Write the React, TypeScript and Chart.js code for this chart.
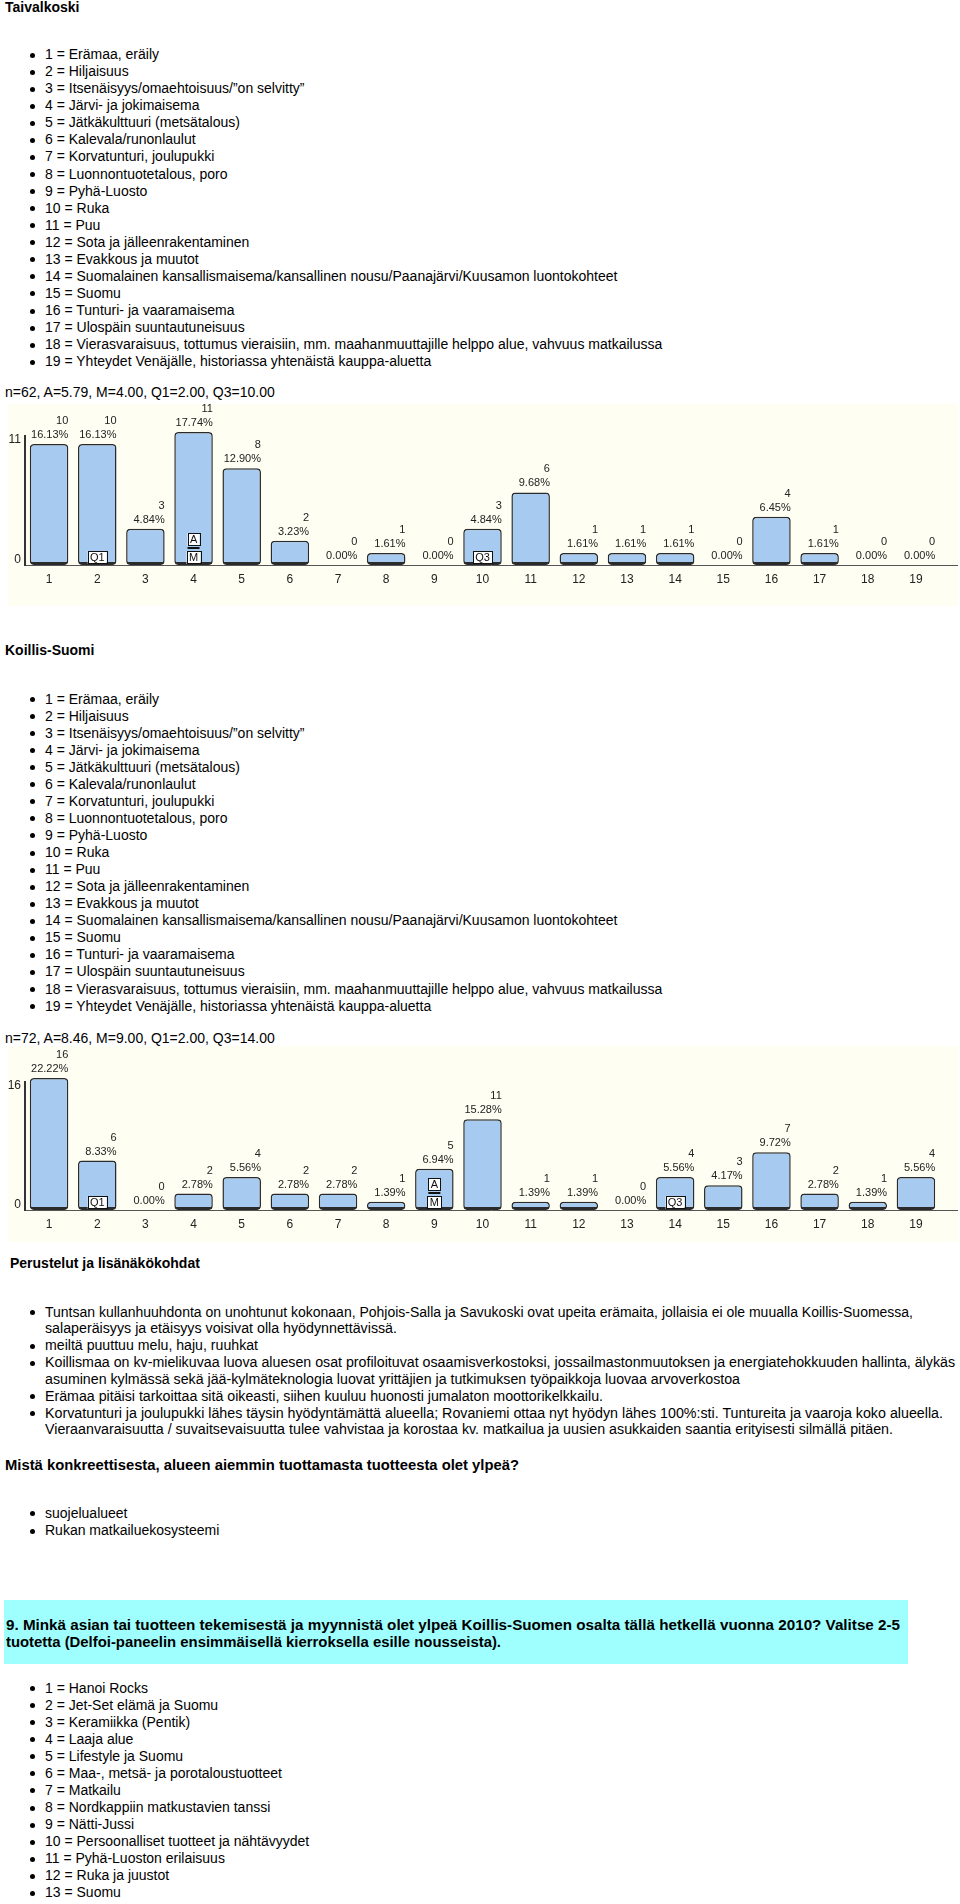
import React, { useEffect, useLayoutEffect, useRef } from 'react';
import { Chart, registerables } from 'chart.js';

Chart.register(...registerables);

const FONT = '"Liberation Sans", Arial, Helvetica, sans-serif';

// ---------- data ----------
const optionNames = [
  '1 = Erämaa, eräily',
  '2 = Hiljaisuus',
  '3 = Itsenäisyys/omaehtoisuus/”on selvitty”',
  '4 = Järvi- ja jokimaisema',
  '5 = Jätkäkulttuuri (metsätalous)',
  '6 = Kalevala/runonlaulut',
  '7 = Korvatunturi, joulupukki',
  '8 = Luonnontuotetalous, poro',
  '9 = Pyhä-Luosto',
  '10 = Ruka',
  '11 = Puu',
  '12 = Sota ja jälleenrakentaminen',
  '13 = Evakkous ja muutot',
  '14 = Suomalainen kansallismaisema/kansallinen nousu/Paanajärvi/Kuusamon luontokohteet',
  '15 = Suomu',
  '16 = Tunturi- ja vaaramaisema',
  '17 = Ulospäin suuntautuneisuus',
  '18 = Vierasvaraisuus, tottumus vieraisiin, mm. maahanmuuttajille helppo alue, vahvuus matkailussa',
  '19 = Yhteydet Venäjälle, historiassa yhtenäistä kauppa-aluetta',
];

const tickLabels = ['1', '2', '3', '4', '5', '6', '7', '8', '9', '10', '11', '12', '13', '14', '15', '16', '17', '18', '19'];

const taivalkoskiCounts = [10, 10, 3, 11, 8, 2, 0, 1, 0, 3, 6, 1, 1, 1, 0, 4, 1, 0, 0];
const taivalkoskiTotal = 62;
const taivalkoskiStats = 'n=62, A=5.79, M=4.00, Q1=2.00, Q3=10.00';
const taivalkoskiMarkers = [
  { index: 1, labels: ['Q1'] },
  { index: 3, labels: ['A', 'M'] },
  { index: 9, labels: ['Q3'] },
];

const koillisCounts = [16, 6, 0, 2, 4, 2, 2, 1, 5, 11, 1, 1, 0, 4, 3, 7, 2, 1, 4];
const koillisTotal = 72;
const koillisStats = 'n=72, A=8.46, M=9.00, Q1=2.00, Q3=14.00';
const koillisMarkers = [
  { index: 1, labels: ['Q1'] },
  { index: 8, labels: ['A', 'M'] },
  { index: 13, labels: ['Q3'] },
];

const perusteluLines = [
  { text: 'Tuntsan kullanhuuhdonta on unohtunut kokonaan, Pohjois-Salla ja Savukoski ovat upeita erämaita, jollaisia ei ole muualla Koillis-Suomessa,', bullet: true, w: 868 },
  { text: 'salaperäisyys ja etäisyys voisivat olla hyödynnettävissä.', bullet: false, w: 352 },
  { text: 'meiltä puuttuu melu, haju, ruuhkat', bullet: true, w: 213 },
  { text: 'Koillismaa on kv-mielikuvaa luova aluesen osat profiloituvat osaamisverkostoksi, jossailmastonmuutoksen ja energiatehokkuuden hallinta, älykäs', bullet: true, w: 910 },
  { text: 'asuminen kylmässä sekä jää-kylmäteknologia luovat yrittäjien ja tutkimuksen työpaikkoja luovaa arvoverkostoa', bullet: false, w: 695 },
  { text: 'Erämaa pitäisi tarkoittaa sitä oikeasti, siihen kuuluu huonosti jumalaton moottorikelkkailu.', bullet: true, w: 558 },
  { text: 'Korvatunturi ja joulupukki lähes täysin hyödyntämättä alueella; Rovaniemi ottaa nyt hyödyn lähes 100%:sti. Tuntureita ja vaaroja koko alueella.', bullet: true, w: 898 },
  { text: 'Vieraanvaraisuutta / suvaitsevaisuutta tulee vahvistaa ja korostaa kv. matkailua ja uusien asukkaiden saantia erityisesti silmällä pitäen.', bullet: false, w: 848 },
];

const proudItems = ['suojelualueet', 'Rukan matkailuekosysteemi'];

const question9Lines = [
  '9. Minkä asian tai tuotteen tekemisestä ja myynnistä olet ylpeä Koillis-Suomen osalta tällä hetkellä vuonna 2010? Valitse 2-5',
  'tuotetta (Delfoi-paneelin ensimmäisellä kierroksella esille nousseista).',
];

const productNames = [
  '1 = Hanoi Rocks',
  '2 = Jet-Set elämä ja Suomu',
  '3 = Keramiikka (Pentik)',
  '4 = Laaja alue',
  '5 = Lifestyle ja Suomu',
  '6 = Maa-, metsä- ja porotaloustuotteet',
  '7 = Matkailu',
  '8 = Nordkappiin matkustavien tanssi',
  '9 = Nätti-Jussi',
  '10 = Persoonalliset tuotteet ja nähtävyydet',
  '11 = Pyhä-Luoston erilaisuus',
  '12 = Ruka ja juustot',
  '13 = Suomu',
];

// ---------- chart plugin ----------
const decorPlugin = {
  id: 'decor',
  beforeDraw(chart: any) {
    const { ctx, width, height } = chart;
    ctx.save();
    ctx.fillStyle = '#FFFEF3';
    ctx.fillRect(0, 0, width, height);
    ctx.restore();
  },
  beforeDatasetsDraw(chart: any) {
    const { ctx, chartArea, width } = chart;
    ctx.save();
    ctx.strokeStyle = '#555';
    ctx.lineWidth = 1;
    ctx.beginPath();
    ctx.moveTo(chartArea.left, chartArea.bottom + 0.5);
    ctx.lineTo(width, chartArea.bottom + 0.5);
    ctx.stroke();
    ctx.strokeStyle = '#333';
    ctx.lineWidth = 2;
    ctx.beginPath();
    ctx.moveTo(chartArea.left, chartArea.top + 3);
    ctx.lineTo(chartArea.left, chartArea.bottom + 1);
    ctx.stroke();
    ctx.restore();
  },
  afterDatasetsDraw(chart: any, _args: any, opts: any) {
    const { ctx, chartArea, scales } = chart;
    const meta = chart.getDatasetMeta(0);
    const values = chart.data.datasets[0].data as number[];
    const total = opts.total as number;
    ctx.save();
    ctx.font = '11px ' + FONT;
    ctx.fillStyle = '#222';
    ctx.textAlign = 'right';
    ctx.textBaseline = 'middle';
    meta.data.forEach((bar: any, i: number) => {
      const p = bar.getProps(['x', 'y', 'width'], true);
      const right = p.x + p.width / 2;
      const pct = ((values[i] / total) * 100).toFixed(2) + '%';
      ctx.fillText(pct, right, p.y - 9);
      ctx.fillText(String(values[i]), right, p.y - 23);
    });
    // y-axis labels
    const yMax = scales.y.max;
    ctx.font = '12px ' + FONT;
    ctx.textBaseline = 'top';
    ctx.fillText(String(yMax), chartArea.left - 4, scales.y.getPixelForValue(yMax) + 2);
    ctx.textBaseline = 'bottom';
    ctx.fillText('0', chartArea.left - 4, scales.y.getPixelForValue(0) + 1);
    // statistic markers
    ctx.font = '11px ' + FONT;
    ctx.textAlign = 'center';
    ctx.textBaseline = 'middle';
    const base = scales.y.getPixelForValue(0);
    (opts.markers as any[]).forEach((m) => {
      const x = scales.x.getPixelForValue(m.index);
      const drawBox = (txt: string, bottom: number) => {
        const w = Math.ceil(ctx.measureText(txt).width) + 4;
        const h = 13;
        ctx.fillStyle = '#fff';
        ctx.fillRect(x - w / 2, bottom - h, w, h);
        ctx.strokeStyle = '#111';
        ctx.lineWidth = 1;
        ctx.strokeRect(Math.round(x - w / 2) + 0.5, bottom - h + 0.5, w, h - 1);
        ctx.fillStyle = '#111';
        ctx.fillText(txt, x, bottom - h / 2 + 0.5);
      };
      if (m.labels.length === 1) {
        drawBox(m.labels[0], base - 1);
      } else {
        drawBox(m.labels[1], base - 1);
        ctx.fillStyle = '#111';
        ctx.fillRect(x - 6, base - 18, 12, 2);
        drawBox(m.labels[0], base - 19);
      }
    });
    ctx.restore();
  },
};

function BarChart(props: { counts: number[]; total: number; markers: any[]; top: number; height: number; padTop: number; padBottom: number }) {
  const ref = useRef<HTMLCanvasElement>(null);
  useEffect(() => {
    const chart = new Chart(ref.current as HTMLCanvasElement, {
      type: 'bar',
      data: {
        labels: tickLabels,
        datasets: [
          {
            data: props.counts,
            backgroundColor: '#A6CAF0',
            borderColor: '#2b2b2b',
            borderWidth: ((c: any) => (c.raw === 0 ? 0 : { top: 1.5, left: 1.5, right: 1.5, bottom: 3 })) as any,
            borderSkipped: false,
            borderRadius: 4,
            categoryPercentage: 1,
            barPercentage: 0.8,
          },
        ],
      },
      options: {
        animation: false,
        responsive: false,
        maintainAspectRatio: false,
        events: [],
        layout: { padding: { left: 17, right: 18, top: props.padTop, bottom: props.padBottom } },
        plugins: {
          legend: { display: false },
          tooltip: { enabled: false },
          decor: { total: props.total, markers: props.markers },
        } as any,
        scales: {
          x: {
            grid: { display: false, drawTicks: false },
            border: { display: false },
            ticks: { color: '#222', font: { family: FONT, size: 12 }, padding: 7, maxRotation: 0, autoSkip: false },
          },
          y: { display: false, min: 0, max: Math.max(...props.counts) },
        },
      },
      plugins: [decorPlugin],
    });
    return () => chart.destroy();
  }, []);
  return (
    <canvas
      ref={ref}
      width={950}
      height={props.height}
      style={{ position: 'absolute', left: 8, top: props.top, width: 950, height: props.height }}
    />
  );
}

function Line(props: { x: number; y: number; text: string; bold?: boolean; w?: number }) {
  const ref = useRef<HTMLSpanElement>(null);
  useLayoutEffect(() => {
    const el = ref.current;
    if (!el || !props.w) return;
    el.style.transform = 'none';
    const nat = el.getBoundingClientRect().width;
    if (nat > 0) el.style.transform = `scaleX(${props.w / nat})`;
  }, [props.w, props.text]);
  return (
    <span
      ref={ref}
      style={{
        position: 'absolute',
        left: props.x,
        top: props.y - 8.5,
        lineHeight: '17px',
        fontSize: 14,
        fontWeight: props.bold ? 'bold' : 'normal',
        whiteSpace: 'nowrap',
        transformOrigin: '0 0',
        display: 'block',
        color: '#000',
      }}
    >
      {props.text}
    </span>
  );
}

function Bullet(props: { y: number }) {
  return (
    <div
      style={{
        position: 'absolute',
        left: 30,
        top: props.y - 2,
        width: 5,
        height: 5,
        borderRadius: '50%',
        background: '#000',
      }}
    />
  );
}

function BulletList(props: { items: string[]; y0: number; step: number }) {
  return (
    <>
      {props.items.map((t, i) => (
        <React.Fragment key={i}>
          <Bullet y={props.y0 + i * props.step} />
          <Line x={45} y={props.y0 + i * props.step} text={t} />
        </React.Fragment>
      ))}
    </>
  );
}

export default function App() {
  return (
    <div
      style={{
        position: 'absolute',
        left: 0,
        top: 0,
        width: 960,
        height: 1904,
        background: '#fff',
        fontFamily: FONT,
        overflow: 'hidden',
      }}
    >
      <Line x={5} y={7} text="Taivalkoski" bold />
      <BulletList items={optionNames} y0={54.6} step={17.06} />
      <Line x={5} y={392} text={taivalkoskiStats} />
      <BarChart counts={taivalkoskiCounts} total={taivalkoskiTotal} markers={taivalkoskiMarkers} top={404} height={202} padTop={28} padBottom={12.6} />

      <Line x={5} y={650} text="Koillis-Suomi" bold />
      <BulletList items={optionNames} y0={699} step={17.06} />
      <Line x={5} y={1038} text={koillisStats} />
      <BarChart counts={koillisCounts} total={koillisTotal} markers={koillisMarkers} top={1046} height={196} padTop={32} padBottom={3.6} />

      <Line x={10} y={1263} text="Perustelut ja lisänäkökohdat" bold />
      {perusteluLines.map((l, i) => {
        const y = 1312 + i * 16.85;
        return (
          <React.Fragment key={i}>
            {l.bullet && <Bullet y={y} />}
            <Line x={45} y={y} text={l.text} w={l.w} />
          </React.Fragment>
        );
      })}

      <Line x={5} y={1465} text="Mistä konkreettisesta, alueen aiemmin tuottamasta tuotteesta olet ylpeä?" bold w={514} />
      <BulletList items={proudItems} y0={1513} step={17.5} />

      <div style={{ position: 'absolute', left: 4, top: 1600, width: 904, height: 64, background: '#9FFFFF' }} />
      <Line x={6} y={1625} text={question9Lines[0]} bold w={894} />
      <Line x={6} y={1642} text={question9Lines[1]} bold w={495} />

      <BulletList items={productNames} y0={1688} step={17.08} />
    </div>
  );
}
